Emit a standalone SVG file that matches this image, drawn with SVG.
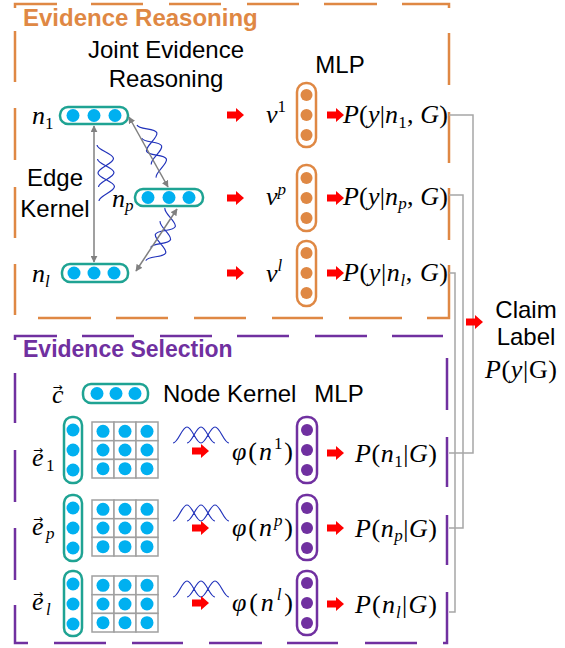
<svg xmlns="http://www.w3.org/2000/svg" xmlns:xlink="http://www.w3.org/1999/xlink" width="565" height="648" viewBox="0 0 565 648">
<style>
.s{font-family:"Liberation Sans",Arial,sans-serif;font-size:24px;fill:#000}
.t{font-family:"Liberation Sans",Arial,sans-serif;font-weight:bold}
.m{font-family:"Liberation Serif","Times New Roman",serif;font-size:26px;fill:#000}
.sb{font-size:17px}
.va{font-family:"DejaVu Sans",sans-serif;font-size:12px;font-style:normal}
.i{font-style:italic}
.box{fill:#fff;stroke:#1FA393;stroke-width:2.5}
.cy{fill:#00B0F0}
.ob{fill:#fff;stroke:#DF8844;stroke-width:2.5}
.of{fill:#DF8844}
.pb{fill:#fff;stroke:#7030A0;stroke-width:2.5}
.pf{fill:#7030A0}
.grid{fill:#fff;stroke:#A0A0A0;stroke-width:1.5}
.wave{fill:none;stroke:#2233BB;stroke-width:1.2}
.ga{fill:none;stroke:#808080;stroke-width:1.5}
.gl{fill:none;stroke:#A6A6A6;stroke-width:1.5}
.red{fill:#FF0000}
</style>
<defs>
<path id="ra" d="M0,-3.5 H9 V-7 L17,0 L9,7 V3.5 H0 Z"/>
<path id="kw" d="M0,0 C5.1,0 8.9,-16 14,-16 S22.9,0 28,0 S36.9,-16 42,-16 S50.9,0 56,0 M14,0 C19.1,0 22.9,-16 28,-16 S36.9,0 42,0"/>
<marker id="ah" viewBox="0 0 10 10" refX="9" refY="5" markerWidth="7" markerHeight="7" markerUnits="userSpaceOnUse" orient="auto-start-reverse">
<path d="M0,0 L10,5 L0,10 z" fill="#808080"/>
</marker>
<g id="grid3">
<rect class="grid" x="0" y="0" width="22" height="18.7"/><rect class="grid" x="22" y="0" width="22" height="18.7"/><rect class="grid" x="44" y="0" width="22" height="18.7"/>
<rect class="grid" x="0" y="18.7" width="22" height="18.7"/><rect class="grid" x="22" y="18.7" width="22" height="18.7"/><rect class="grid" x="44" y="18.7" width="22" height="18.7"/>
<rect class="grid" x="0" y="37.4" width="22" height="18.6"/><rect class="grid" x="22" y="37.4" width="22" height="18.6"/><rect class="grid" x="44" y="37.4" width="22" height="18.6"/>
<circle class="cy" cx="11" cy="9.3" r="6.5"/><circle class="cy" cx="33" cy="9.3" r="6.5"/><circle class="cy" cx="55" cy="9.3" r="6.5"/>
<circle class="cy" cx="11" cy="28" r="6.5"/><circle class="cy" cx="33" cy="28" r="6.5"/><circle class="cy" cx="55" cy="28" r="6.5"/>
<circle class="cy" cx="11" cy="46.7" r="6.5"/><circle class="cy" cx="33" cy="46.7" r="6.5"/><circle class="cy" cx="55" cy="46.7" r="6.5"/>
</g>
</defs>

<g id="frame-reasoning">
<path fill="none" stroke="#DF8844" stroke-width="2.5" d="M15,8 V4 H57 M91,4 H143 M169,4 H221 M247,4 H299 M324,4 H377 M402,4 H449 V8 M449,33 V85 M449,112 V163 M449,188 V240 M449,265 V318 H427 M38,318 H91 M116,318 H168 M194,318 H246 M272,318 H323 M349,318 H402 M15,31 V82 M15,108 V160 M15,187 V238 M15,264 V315"/>
<text class="t" x="23" y="26" font-size="24" fill="#DF8844">Evidence Reasoning</text>
<text class="s" x="166" y="58" text-anchor="middle">Joint Evidence</text>
<text class="s" x="166" y="87" text-anchor="middle">Reasoning</text>
<text class="s" x="340" y="73" text-anchor="middle">MLP</text>
<text class="s" x="55" y="186" text-anchor="middle">Edge</text>
<text class="s" x="55" y="217" text-anchor="middle">Kernel</text>
</g>

<g id="frame-selection">
<path fill="none" stroke="#7030A0" stroke-width="2.5" d="M15,340 V336 H57 M82,336 H134 M160,336 H212 M237,336 H289 M315,336 H367 M392,336 H443 M447,358 V410 M447,437 V487 M447,515 V565 M447,592 V643 H443 M54,643 H106 M132,643 H183 M209,643 H262 M287,643 H338 M365,643 H417 M15,373 V423 M15,450 V502 M15,528 V580 M15,605 V643 H28"/>
<text class="t" x="23" y="357" font-size="23" fill="#7030A0">Evidence Selection</text>
<text class="s" x="163" y="402">Node Kernel</text>
<text class="s" x="339" y="402" text-anchor="middle">MLP</text>
</g>

<g id="node-n1">
<rect class="box" x="60" y="107" width="68" height="17" rx="8"/>
<circle class="cy" cx="73" cy="115.5" r="6.5"/><circle class="cy" cx="94" cy="115.5" r="6.5"/><circle class="cy" cx="115" cy="115.5" r="6.5"/>
<text class="m" x="32" y="124"><tspan class="i">n</tspan><tspan class="sb" dy="5">1</tspan></text>
</g>
<g id="node-np">
<rect class="box" x="135" y="189" width="68" height="17" rx="8"/>
<circle class="cy" cx="148" cy="197.5" r="6.5"/><circle class="cy" cx="169" cy="197.5" r="6.5"/><circle class="cy" cx="189" cy="197.5" r="6.5"/>
<text class="m" x="112" y="207"><tspan class="i">n</tspan><tspan class="i sb" dy="4">p</tspan></text>
</g>
<g id="node-nl">
<rect class="box" x="62" y="264" width="66" height="18" rx="8"/>
<circle class="cy" cx="74" cy="273" r="6.5"/><circle class="cy" cx="94" cy="273" r="6.5"/><circle class="cy" cx="114" cy="273" r="6.5"/>
<text class="m" x="32" y="282"><tspan class="i">n</tspan><tspan class="i sb" dy="5">l</tspan></text>
</g>

<g id="kernels">
<use xlink:href="#kw" class="wave" transform="translate(97,145) rotate(88)"/>
<use xlink:href="#kw" class="wave" transform="translate(137,125) rotate(70)"/>
<use xlink:href="#kw" class="wave" transform="translate(165,208) rotate(110)"/>
<use xlink:href="#kw" class="wave" transform="translate(173,443)"/>
<use xlink:href="#kw" class="wave" transform="translate(173,521)"/>
<use xlink:href="#kw" class="wave" transform="translate(173,597)"/>
</g>

<g id="mlp-v1">
<text class="m" x="266" y="123"><tspan class="i">v</tspan><tspan class="sb" dy="-11">1</tspan></text>
<rect class="ob" x="297" y="83" width="19" height="64" rx="9"/>
<circle class="of" cx="306.5" cy="95" r="6"/><circle class="of" cx="306.5" cy="115" r="6"/><circle class="of" cx="306.5" cy="135" r="6"/>
<text class="m" x="343" y="123" textLength="105" lengthAdjust="spacing"><tspan class="i">P</tspan>(<tspan class="i">y</tspan>|<tspan class="i">n</tspan><tspan class="sb" dy="5">1</tspan><tspan dy="-5">, </tspan><tspan class="i">G</tspan>)</text>
</g>
<g id="mlp-vp">
<text class="m" x="266" y="205"><tspan class="i">v</tspan><tspan class="i sb" dy="-10">p</tspan></text>
<rect class="ob" x="297" y="165" width="19" height="66" rx="9"/>
<circle class="of" cx="306.5" cy="178" r="6"/><circle class="of" cx="306.5" cy="198" r="6"/><circle class="of" cx="306.5" cy="218" r="6"/>
<text class="m" x="343" y="205" textLength="105" lengthAdjust="spacing"><tspan class="i">P</tspan>(<tspan class="i">y</tspan>|<tspan class="i">n</tspan><tspan class="i sb" dy="4">p</tspan><tspan dy="-4">, </tspan><tspan class="i">G</tspan>)</text>
</g>
<g id="mlp-vl">
<text class="m" x="266" y="282"><tspan class="i">v</tspan><tspan class="i sb" dy="-11">l</tspan></text>
<rect class="ob" x="297" y="241" width="19" height="65" rx="9"/>
<circle class="of" cx="306.5" cy="253" r="6"/><circle class="of" cx="306.5" cy="273" r="6"/><circle class="of" cx="306.5" cy="293" r="6"/>
<text class="m" x="343" y="281" textLength="105" lengthAdjust="spacing"><tspan class="i">P</tspan>(<tspan class="i">y</tspan>|<tspan class="i">n</tspan><tspan class="i sb" dy="5">l</tspan><tspan dy="-5">, </tspan><tspan class="i">G</tspan>)</text>
</g>

<g id="claim">
<text class="s" x="526" y="318" text-anchor="middle" font-size="23">Claim</text>
<text class="s" x="526" y="345" text-anchor="middle" font-size="23">Label</text>
<text class="m" x="485" y="378" textLength="72" lengthAdjust="spacing"><tspan class="i">P</tspan>(<tspan class="i">y</tspan>|G)</text>
</g>

<g id="node-c">
<text class="m" x="52" y="403"><tspan class="i">c</tspan><tspan class="va" dx="-11" dy="-12">→</tspan></text>
<rect class="box" x="83" y="384" width="65" height="19" rx="8"/>
<circle class="cy" cx="97" cy="393.5" r="6.5"/><circle class="cy" cx="116" cy="393.5" r="6.5"/><circle class="cy" cx="135" cy="393.5" r="6.5"/>
</g>

<g id="node-e1">
<text class="m" x="32" y="466"><tspan class="i">e</tspan><tspan class="va" dx="-10.5" dy="-12">→</tspan><tspan class="sb" dx="3" dy="17">1</tspan></text>
<rect class="box" x="64" y="417" width="18" height="66" rx="8"/>
<circle class="cy" cx="73" cy="430" r="6.5"/><circle class="cy" cx="73" cy="450" r="6.5"/><circle class="cy" cx="73" cy="470" r="6.5"/>
<use xlink:href="#grid3" transform="translate(92,422)"/>
<text class="m" x="232" y="460" textLength="61" lengthAdjust="spacing"><tspan class="i">φ</tspan>(<tspan class="i">n</tspan><tspan class="sb" dy="-11">1</tspan><tspan dy="11">)</tspan></text>
<rect class="pb" x="297" y="417" width="20" height="66" rx="9"/>
<circle class="pf" cx="307" cy="430" r="6"/><circle class="pf" cx="307" cy="450" r="6"/><circle class="pf" cx="307" cy="470" r="6"/>
<text class="m" x="355" y="462" textLength="82" lengthAdjust="spacing"><tspan class="i">P</tspan>(<tspan class="i">n</tspan><tspan class="sb" dy="5">1</tspan><tspan dy="-5">|</tspan><tspan class="i">G</tspan>)</text>
</g>
<g id="node-ep">
<text class="m" x="32" y="535"><tspan class="i">e</tspan><tspan class="va" dx="-10.5" dy="-12">→</tspan><tspan class="i sb" dx="3" dy="16">p</tspan></text>
<rect class="box" x="64" y="495" width="18" height="66" rx="8"/>
<circle class="cy" cx="73" cy="508" r="6.5"/><circle class="cy" cx="73" cy="528" r="6.5"/><circle class="cy" cx="73" cy="548" r="6.5"/>
<use xlink:href="#grid3" transform="translate(92,500)"/>
<text class="m" x="232" y="536" textLength="61" lengthAdjust="spacing"><tspan class="i">φ</tspan>(<tspan class="i">n</tspan><tspan class="i sb" dy="-10">p</tspan><tspan dy="10">)</tspan></text>
<rect class="pb" x="297" y="495" width="20" height="65" rx="9"/>
<circle class="pf" cx="307" cy="508" r="6"/><circle class="pf" cx="307" cy="528" r="6"/><circle class="pf" cx="307" cy="548" r="6"/>
<text class="m" x="355" y="537" textLength="82" lengthAdjust="spacing"><tspan class="i">P</tspan>(<tspan class="i">n</tspan><tspan class="i sb" dy="4">p</tspan><tspan dy="-4">|</tspan><tspan class="i">G</tspan>)</text>
</g>
<g id="node-el">
<text class="m" x="32" y="610"><tspan class="i">e</tspan><tspan class="va" dx="-10.5" dy="-12">→</tspan><tspan class="i sb" dx="3" dy="17">l</tspan></text>
<rect class="box" x="64" y="571" width="18" height="65" rx="8"/>
<circle class="cy" cx="73" cy="584" r="6.5"/><circle class="cy" cx="73" cy="604" r="6.5"/><circle class="cy" cx="73" cy="624" r="6.5"/>
<use xlink:href="#grid3" transform="translate(92,576)"/>
<text class="m" x="232" y="611" textLength="61" lengthAdjust="spacing"><tspan class="i">φ</tspan>(<tspan class="i">n</tspan><tspan class="i sb" dy="-11">l</tspan><tspan dy="11">)</tspan></text>
<rect class="pb" x="297" y="571" width="20" height="64" rx="9"/>
<circle class="pf" cx="307" cy="583" r="6"/><circle class="pf" cx="307" cy="603" r="6"/><circle class="pf" cx="307" cy="623" r="6"/>
<text class="m" x="355" y="613" textLength="82" lengthAdjust="spacing"><tspan class="i">P</tspan>(<tspan class="i">n</tspan><tspan class="i sb" dy="5">l</tspan><tspan dy="-5">|</tspan><tspan class="i">G</tspan>)</text>
</g>

<g id="connectors">
<line class="ga" x1="94" y1="126" x2="94" y2="262" marker-start="url(#ah)" marker-end="url(#ah)"/>
<line class="ga" x1="129" y1="117" x2="168" y2="187" marker-start="url(#ah)" marker-end="url(#ah)"/>
<line class="ga" x1="177" y1="209" x2="136" y2="271" marker-start="url(#ah)" marker-end="url(#ah)"/>
<path class="gl" d="M449,115 H473 V453 H449"/>
<path class="gl" d="M449,195 H463 V528 H449"/>
<path class="gl" d="M449,273 H455 V612 H449"/>
<g class="red">
<use xlink:href="#ra" x="227" y="115"/><use xlink:href="#ra" x="227" y="198"/><use xlink:href="#ra" x="227" y="273"/>
<use xlink:href="#ra" x="327" y="115"/><use xlink:href="#ra" x="327" y="198"/><use xlink:href="#ra" x="327" y="273"/>
<use xlink:href="#ra" x="466" y="322"/>
<use xlink:href="#ra" x="192" y="451"/><use xlink:href="#ra" x="192" y="528"/><use xlink:href="#ra" x="192" y="603"/>
<use xlink:href="#ra" x="327" y="453"/><use xlink:href="#ra" x="327" y="528"/><use xlink:href="#ra" x="327" y="604"/>
</g>
</g>
</svg>
